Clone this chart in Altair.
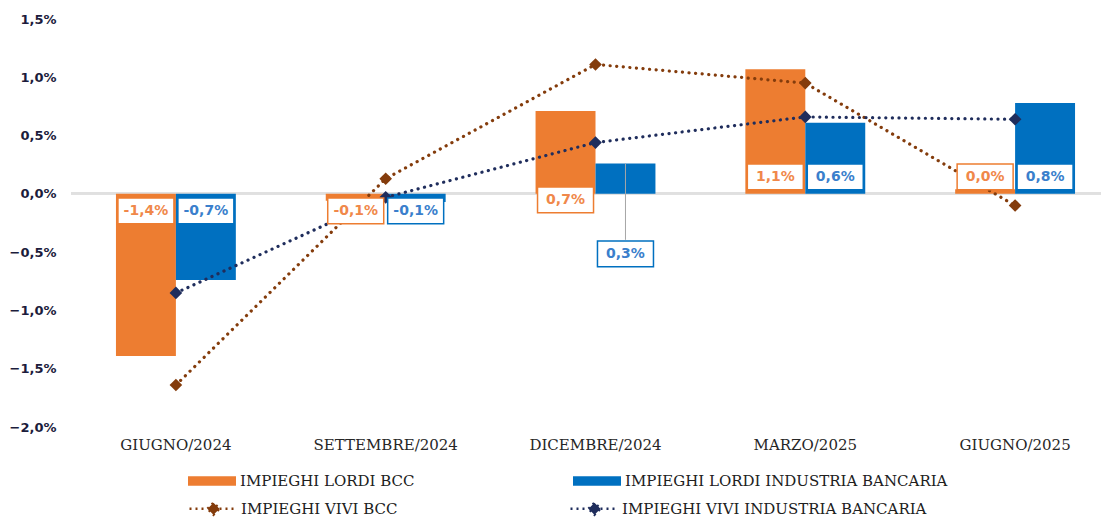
import altair as alt
import pandas as pd

categories = ["GIUGNO/2024", "SETTEMBRE/2024", "DICEMBRE/2024", "MARZO/2025", "GIUGNO/2025"]
bar_series = ["IMPIEGHI LORDI BCC", "IMPIEGHI LORDI INDUSTRIA BANCARIA"]
line_series = ["IMPIEGHI VIVI BCC", "IMPIEGHI VIVI INDUSTRIA BANCARIA"]

lordi_bcc = [-1.39, -0.06, 0.71, 1.07, 0.04]
lordi_ind = [-0.74, -0.07, 0.26, 0.61, 0.78]
vivi_bcc = [-1.64, 0.13, 1.11, 0.95, -0.10]
vivi_ind = [-0.85, -0.03, 0.44, 0.66, 0.64]

y_ticks = [-2.0, -1.5, -1.0, -0.5, 0.0, 0.5, 1.0, 1.5]

ORANGE = "#ED7D31"
BLUE = "#0070C0"
BROWN = "#843C0C"
NAVY = "#1F2D5C"

bars = pd.DataFrame(
    [{"cat": c, "series": bar_series[0], "value": v} for c, v in zip(categories, lordi_bcc)]
    + [{"cat": c, "series": bar_series[1], "value": v} for c, v in zip(categories, lordi_ind)]
)
bars["label"] = bars["value"].map(lambda v: f"{v:.1f}".replace(".", ",") + "%")
lines = pd.DataFrame(
    [{"cat": c, "series2": line_series[0], "value": v} for c, v in zip(categories, vivi_bcc)]
    + [{"cat": c, "series2": line_series[1], "value": v} for c, v in zip(categories, vivi_ind)]
)

W, H = 1030, 408
SERIF = "DejaVu Serif"
SANS = "DejaVu Sans"

x_enc = alt.X(
    "cat:N", sort=categories, title=None,
    scale=alt.Scale(paddingInner=0, paddingOuter=0, rangeMax=1049),
    axis=alt.Axis(labelAngle=0, domain=False, ticks=False, labelPadding=10,
                  labelFont=SERIF, labelFontSize=15, labelColor="#262626"),
)
y_enc = alt.Y(
    "value:Q", title=None,
    scale=alt.Scale(domain=[-2, 1.5], nice=False, zero=False),
    axis=alt.Axis(values=y_ticks, labelExpr="replace(format(datum.value, '.1f'), '.', ',') + '%'",
                  grid=False, domain=False, ticks=False, labelPadding=15,
                  labelFont=SANS, labelFontSize=13, labelFontWeight="bold", labelColor="#1c1c3c"),
)
xoff = alt.XOffset("series:N", sort=bar_series, scale=alt.Scale(paddingInner=0, paddingOuter=0.75))

zero = alt.Chart(bars).mark_rule(color="#e0e0e0", strokeWidth=2).encode(y=alt.datum(0))

bar_layer = alt.Chart(bars).mark_bar().encode(
    x=x_enc, y=y_enc, xOffset=xoff,
    color=alt.Color("series:N", sort=bar_series,
                    scale=alt.Scale(domain=bar_series, range=[ORANGE, BLUE]),
                    legend=alt.Legend(
                        title=None, orient="none", legendX=117, legendY=438, direction="horizontal",
                        symbolType="M-1,-0.2L1,-0.2L1,0.2L-1,0.2Z", symbolSize=2304, symbolStrokeWidth=0,
                        labelFont=SERIF, labelFontSize=15, labelColor="#202020", labelOffset=4,
                        columnPadding=158, labelLimit=400, padding=0)),
)

line_legend = alt.Legend(
    title=None, orient="none", legendX=117, legendY=464, direction="horizontal",
    symbolType="M-1,0L-0.25,0M0.25,0L1,0M-0.25,0L0,-0.25L0.25,0L0,0.25Z",
    symbolSize=2304, symbolStrokeWidth=2.5, symbolDash=[2, 4],
    labelFont=SERIF, labelFontSize=15, labelColor="#202020", labelOffset=2,
    columnPadding=167, labelLimit=400, padding=0)

line_layer = alt.Chart(lines).mark_line(strokeDash=[0.1, 6.5], strokeWidth=3.2, strokeCap="round").encode(
    x=x_enc, y=y_enc,
    stroke=alt.Stroke("series2:N", sort=line_series,
                      scale=alt.Scale(domain=line_series, range=[BROWN, NAVY]),
                      legend=line_legend),
)

pt_layer = alt.Chart(lines).mark_point(shape="diamond", filled=True, size=160, opacity=1).encode(
    x=x_enc, y=y_enc,
    fill=alt.Fill("series2:N", sort=line_series,
                  scale=alt.Scale(domain=line_series, range=[BROWN, NAVY]), legend=line_legend),
)

box_shape = "M-1,-0.46L1,-0.46L1,0.46L-1,0.46Z"
stroke_cond = alt.condition(alt.datum.series == bar_series[0], alt.value(ORANGE), alt.value(BLUE))
text_cond = alt.condition(alt.datum.series == bar_series[0], alt.value("#F0884A"), alt.value("#3A7FCC"))


def label_layers(data_filter, dx, dy):
    base = alt.Chart(bars).transform_filter(data_filter)
    box = base.mark_point(shape=box_shape, size=3136, filled=True, fill="white", strokeWidth=1.5,
                          opacity=1, xOffset=dx, yOffset=dy).encode(
        x=x_enc, y=alt.datum(0), xOffset=xoff, stroke=stroke_cond)
    txt = base.mark_text(font=SANS, fontSize=14, fontWeight="bold", xOffset=dx, yOffset=dy,
                         baseline="middle", align="center").encode(
        x=x_enc, y=alt.datum(0), xOffset=xoff, text="label:N", color=text_cond)
    return [box, txt]


neg = "datum.value < 0"
pos = f"datum.value >= 0 && datum.cat != '{categories[2]}'"
dic_o = f"datum.cat == '{categories[2]}' && datum.series == '{bar_series[0]}'"
dic_b = f"datum.cat == '{categories[2]}' && datum.series == '{bar_series[1]}'"

leader = alt.Chart(bars).transform_filter(dic_b).mark_rule(
    color="#a6a6a6", strokeWidth=1, xOffset=1, y2Offset=46).encode(
    x=x_enc, xOffset=xoff, y=y_enc, y2=alt.datum(0))

layers = [zero, bar_layer, line_layer, pt_layer, leader]
layers += label_layers(neg, 0, 17)
layers += label_layers(pos, 0, -17)
layers += label_layers(dic_o, -8, 6)
layers += label_layers(dic_b, 3, 60)

chart = alt.layer(*layers).properties(
    width=W, height=H, autosize="none", background="white",
    padding={"left": 63, "top": 11, "right": 0, "bottom": 92},
).configure_view(stroke=None)

chart.save("out.html", embed_options={"renderer": "svg", "actions": False})
